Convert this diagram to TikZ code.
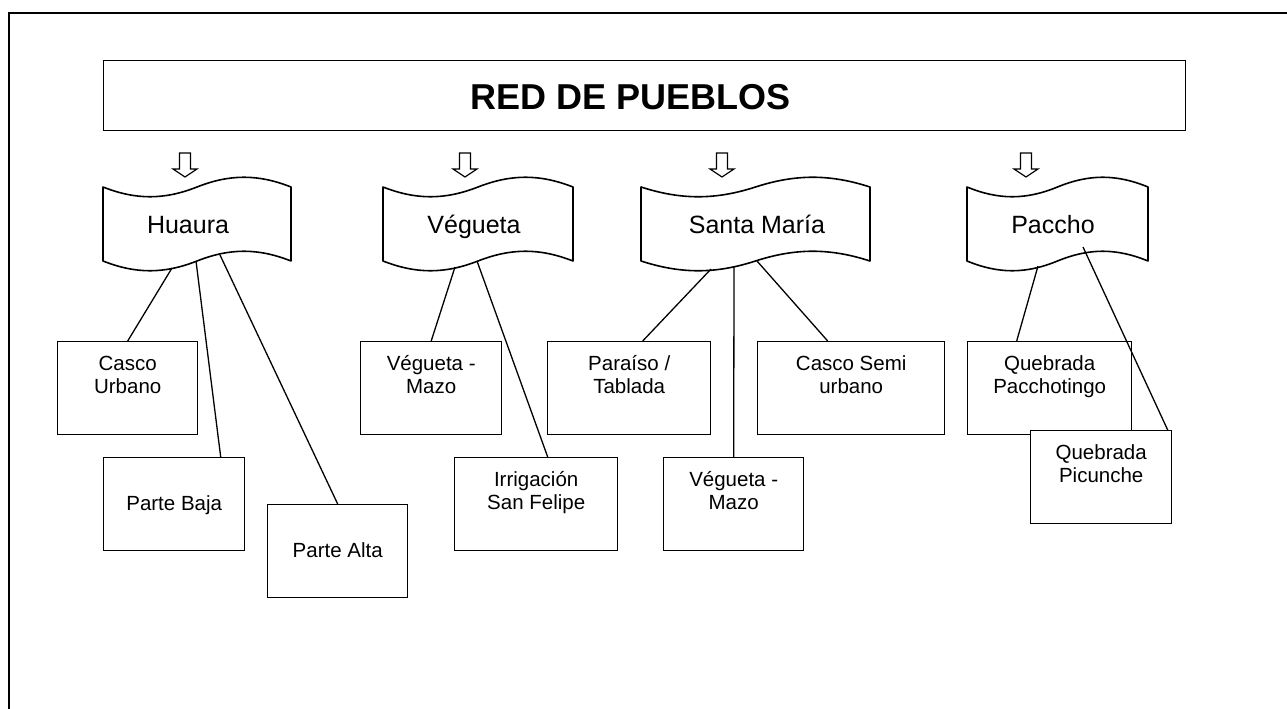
\documentclass[tikz,border=0pt]{standalone}
\usepackage{fontspec}
\setmainfont{Liberation Sans}
\usetikzlibrary{calc}
\tikzset{
  frameline/.style={line width=2pt},
  titlebox/.style={draw, line width=1.4pt, inner sep=0pt, anchor=north west},
  titletext/.style={font=\fontsize{36}{40}\selectfont\bfseries, anchor=base, inner sep=0pt},
  tapeline/.style={line width=1.6pt, line join=round},
  tapearea/.style={inner sep=0pt, anchor=north west, minimum height=74pt},
  tapetext/.style={font=\fontsize{25}{30}\selectfont, anchor=base, inner sep=0pt},
  blockarrow/.style={draw, line width=1.2pt, fill=white, line join=miter},
  smallbox/.style={draw, line width=1.4pt, inner sep=0pt, anchor=north west, minimum height=93pt},
  boxtext/.style={font=\fontsize{20.5}{23.5}\selectfont, align=center, anchor=north, inner sep=0pt},
  conn/.style={line width=1.3pt}
}
\newcommand\tapeshape[3]{%
  \pgfmathsetmacro\tpL{#1}\pgfmathsetmacro\tpR{#2}%
  \pgfmathsetmacro\tpM{(#1+#2)/2}\pgfmathsetmacro\tpH{0.35*(#2-#1)/2}%
  \draw[tapeline] (\tpL,187) .. controls (\tpL+\tpH,200) and (\tpM-\tpH,200) .. (\tpM,187)
    .. controls (\tpM+\tpH,174) and (\tpR-\tpH,174) .. (\tpR,187) -- (\tpR,261)
    .. controls (\tpR-\tpH,248) and (\tpM+\tpH,248) .. (\tpM,261)
    .. controls (\tpM-\tpH,274) and (\tpL+\tpH,274) .. (\tpL,261) -- cycle;
  \node[tapearea, minimum width={(#2-#1)*1pt}] (#3) at (#1,187) {};
}
\newcommand\downblock[1]{%
  \draw[blockarrow] (#1-5.5,153) -- (#1+5.5,153) -- (#1+5.5,169) -- (#1+12,169)
    -- (#1,177) -- (#1-12,169) -- (#1-5.5,169) -- cycle;
}
\begin{document}
\begin{tikzpicture}[x=1pt,y=-1pt]
\useasboundingbox (0,0) rectangle (1287,709);
% outer frame
\draw[frameline] (9,709) -- (9,13) -- (1290,13);
% title
\node[titlebox, minimum width=1082pt, minimum height=70pt] (title) at (103,60) {};
\node[titletext] (titlet) at (631,109) {RED DE PUEBLOS};
% arrows
\downblock{185}
\downblock{465}
\downblock{722}
\downblock{1026}
% tapes
\tapeshape{103}{291}{hu}
\tapeshape{383}{573}{ve}
\tapeshape{641}{870}{sm}
\tapeshape{967}{1148}{pa}
\node[tapetext] (hut) at (188,233) {Huaura};
\node[tapetext] (vet) at (474,233) {Végueta};
\node[tapetext] (smt) at (757,233) {Santa María};
\node[tapetext] (pat) at (1053,233) {Paccho};
% boxes
\node[smallbox, minimum width=140pt] (cu) at (57,341) {};
\node[smallbox, minimum width=141pt] (pb) at (103,457) {};
\node[smallbox, minimum width=140pt] (pal) at (267,504) {};
\node[smallbox, minimum width=141pt] (vm1) at (360,341) {};
\node[smallbox, minimum width=163pt] (irr) at (454,457) {};
\node[smallbox, minimum width=163pt] (par) at (547,341) {};
\node[smallbox, minimum width=187pt] (cs) at (757,341) {};
\node[smallbox, minimum width=140pt] (vm2) at (663,457) {};
\node[smallbox, minimum width=164pt] (qp) at (967,341) {};
\node[smallbox, minimum width=141pt, fill=white] (qpi) at (1030,430) {};
% box texts
\node[boxtext] (cut) at (cu.north) {\rule{0pt}{29pt}Casco\\Urbano};
\node[boxtext] (pbt) at (pb.north) {\rule{0pt}{53pt}Parte Baja};
\node[boxtext] (palt) at (pal.north) {\rule{0pt}{53pt}Parte Alta};
\node[boxtext] (vm1t) at (vm1.north) {\rule{0pt}{29pt}Végueta -\\Mazo};
\node[boxtext] (irrt) at (irr.north) {\rule{0pt}{29pt}Irrigación\\San Felipe};
\node[boxtext] (part) at (par.north) {\rule{0pt}{29pt}Paraíso /\\Tablada};
\node[boxtext] (cst) at (cs.north) {\rule{0pt}{29pt}Casco Semi\\urbano};
\node[boxtext] (vm2t) at (vm2.north) {\rule{0pt}{29pt}Végueta -\\Mazo};
\node[boxtext] (qpt) at (qp.north) {\rule{0pt}{29pt}Quebrada\\Pacchotingo};
\node[boxtext] (qpit) at (qpi.north) {\rule{0pt}{29pt}Quebrada\\Picunche};
% connector start points on the tapes
\coordinate (hu1) at (172,268);
\coordinate (hu2) at (196,261);
\coordinate (hu3) at (220,255);
\coordinate (ve1) at (455,267);
\coordinate (ve2) at (477,261);
\coordinate (sm1) at (711,269);
\coordinate (sm2) at (734,266);
\coordinate (sm3) at (757,261);
\coordinate (pa1) at (1038,266);
\coordinate (pa2) at (1083,247);
% connectors
\draw[conn] (hu1) -- (cu.north);
\draw[conn] (hu2) -- ([xshift=46.5pt]pb.north);
\draw[conn] (hu3) -- (pal.north);
\draw[conn] (ve1) -- (vm1.north);
\draw[conn] (ve2) -- ([xshift=11.5pt]irr.north);
\draw[conn] (sm1) -- ([xshift=13.5pt]par.north);
\draw[conn] (sm2) -- (vm2.north);
\draw[conn] (sm3) -- ([xshift=-23.5pt]cs.north);
\draw[conn] (pa1) -- ([xshift=-33pt]qp.north);
\draw[conn] (pa2) -- ([xshift=66.5pt]qpi.north);
\end{tikzpicture}
\end{document}
